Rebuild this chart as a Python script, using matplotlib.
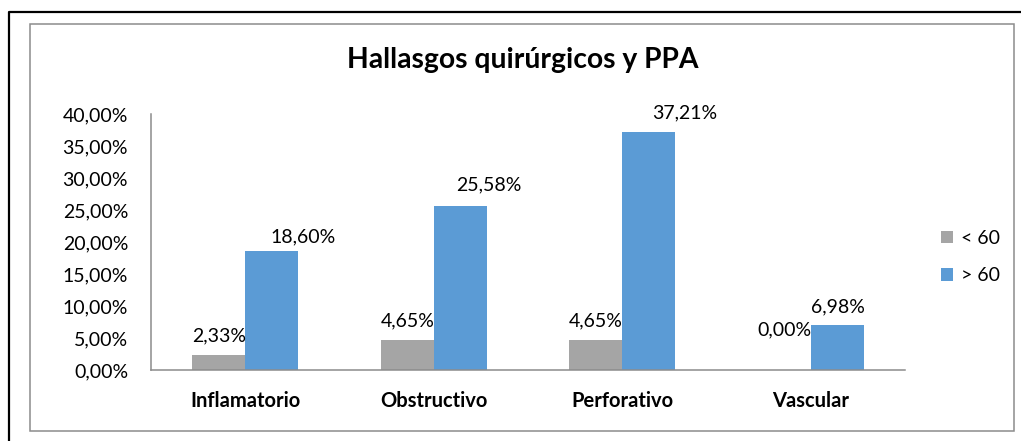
import numpy as np
import matplotlib.pyplot as plt
from matplotlib.lines import Line2D
from matplotlib.patches import Rectangle

# data
categories = ['Inflamatorio', 'Obstructivo', 'Perforativo', 'Vascular']
menor_60 = [2.33, 4.65, 4.65, 0.00]
mayor_60 = [18.60, 25.58, 37.21, 6.98]
series_names = ['< 60', '> 60']
yticks = [0, 5, 10, 15, 20, 25, 30, 35, 40]

GRAY = '#A5A5A5'
BLUE = '#5B9BD5'
FONT = 'Lato'

W, H = 1021, 441
fig = plt.figure(figsize=(W / 100, H / 100), dpi=100)

# outer black border (left + top) and the inner grey chart frame
fig.add_artist(Line2D([9 / W, 9 / W, 1.0], [0.0, 1 - 12 / H, 1 - 12 / H],
                      transform=fig.transFigure, color='black', lw=1.6))
fig.add_artist(Rectangle((30 / W, 1 - 431 / H), (1014 - 30) / W, (431 - 24) / H,
                         transform=fig.transFigure, fill=False,
                         edgecolor='#8C8C8C', lw=1.1))

ax = fig.add_axes([151 / W, 1 - 370 / H, (905 - 151) / W, (370 - 114) / H])

x = np.arange(len(categories))
bw = 0.28
b1 = ax.bar(x - bw / 2, menor_60, bw, color=GRAY, label=series_names[0])
b2 = ax.bar(x + bw / 2, mayor_60, bw, color=BLUE, label=series_names[1])

ax.set_xlim(-0.5, len(categories) - 0.5)
ax.set_ylim(0, 40)
ax.set_yticks(yticks)
ax.set_yticklabels([f'{t:.2f}%'.replace('.', ',') for t in yticks],
                   family=FONT, fontsize=14)
ax.set_xticks(x)
ax.set_xticklabels(categories, family=FONT, fontsize=14.5, fontweight='bold')
ax.tick_params(axis='both', length=0, colors='black')
ax.tick_params(axis='y', pad=16.5)
ax.tick_params(axis='x', pad=15)

for s in ['top', 'right']:
    ax.spines[s].set_visible(False)
for s in ['left', 'bottom']:
    ax.spines[s].set_color('#8C8C8C')
    ax.spines[s].set_linewidth(1.1)

# data labels, some nudged by hand like in the original
gray_offsets = [(0, 19), (0, 19), (0, 19), (0, 40)]
blue_offsets = [(31, 14), (29, 21), (36, 19), (1, 18)]
for bars, vals, offs in [(b1, menor_60, gray_offsets), (b2, mayor_60, blue_offsets)]:
    for rect, v, (dx, dy) in zip(bars, vals, offs):
        ax.annotate(f'{v:.2f}%'.replace('.', ','),
                    xy=(rect.get_x() + rect.get_width() / 2, v),
                    xytext=(dx, dy), textcoords='offset pixels',
                    ha='center', va='center', family=FONT, fontsize=14)

fig.text(523 / W, 1 - 60 / H, 'Hallasgos quirúrgicos y PPA', ha='center',
         va='center', family=FONT, fontsize=20.3, fontweight='bold')

leg = fig.legend(handles=[b1, b2], loc='center left',
                 bbox_to_anchor=(923 / W, 1 - 257 / H), frameon=False,
                 prop={'family': FONT, 'size': 14}, handlelength=0.62,
                 handleheight=0.62, handletextpad=0.45, labelspacing=1.05)

fig.savefig('out.png', dpi=100)
